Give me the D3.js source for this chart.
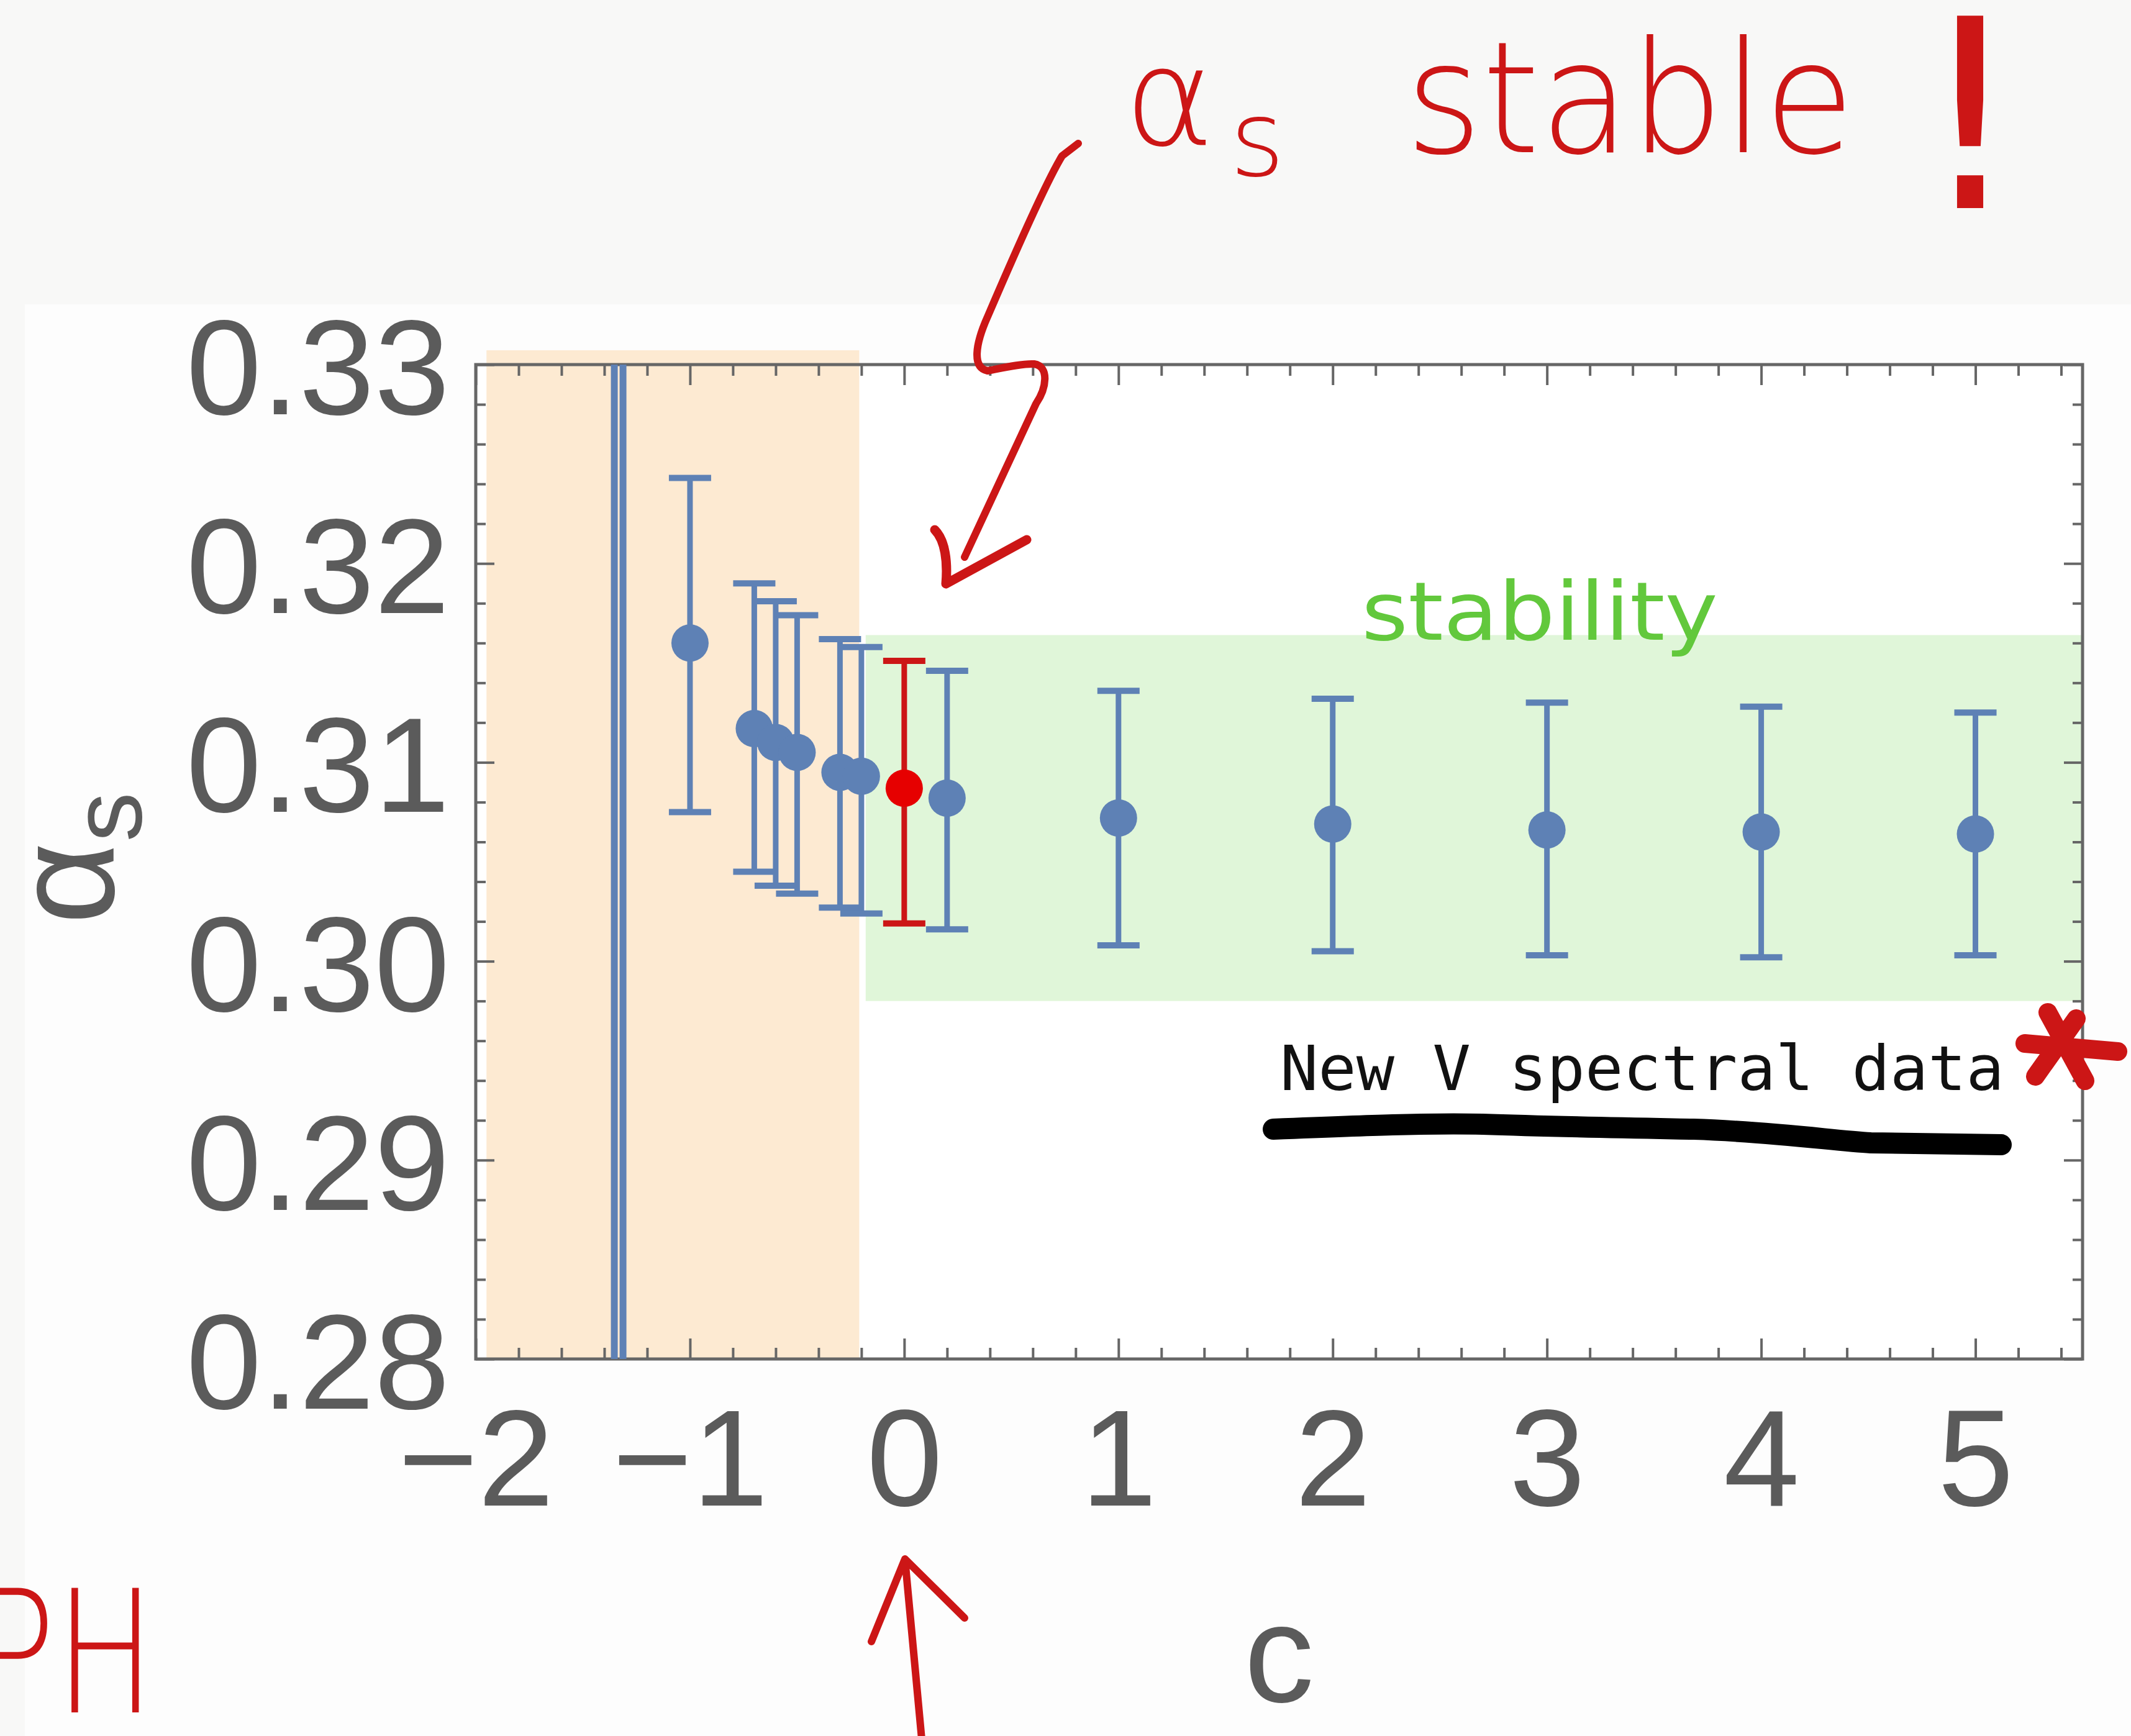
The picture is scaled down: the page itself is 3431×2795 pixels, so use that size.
<!DOCTYPE html>
<html lang="en">
<head>
  <meta charset="UTF-8">
  <title>alpha_s vs c</title>
  <style>
    body {
      margin: 0;
      background-color: #f8f8f7;
    }
    svg {
      display: block;
    }
    .tick-label text {
      font-family: "Liberation Sans", Arial, sans-serif;
      fill: #5b5b5b;
    }
    .hand {
      font-family: "DejaVu Sans", sans-serif;
      font-weight: 200;
    }
  </style>
  <script src="https://d3js.org/d3.v7.min.js"></script>
</head>
<body>
  <div id="chart"></div>

  <script>
    // Data
    const cVals  = [-1.0, -0.7, -0.6, -0.5, -0.3, -0.2, 0.0, 0.2, 1, 2, 3, 4, 5];
    const alphaS = [0.3160, 0.3117, 0.3110, 0.3105, 0.3095, 0.3093, 0.3087, 0.3082, 0.3072, 0.3069, 0.3066, 0.3065, 0.3064];
    const errHi  = [0.3243, 0.3190, 0.3181, 0.3174, 0.3162, 0.3158, 0.3151, 0.3146, 0.3136, 0.3132, 0.3130, 0.3128, 0.3125];
    const errLo  = [0.3075, 0.3045, 0.3038, 0.3034, 0.3027, 0.3024, 0.3019, 0.3016, 0.3008, 0.3005, 0.3003, 0.3002, 0.3003];
    const highlightC = 0;

    // the point whose error bar runs off the whole plot
    const wideC = [-1.333];
    const wideLo = [0.20];
    const wideHi = [0.40];

    // shaded regions [c0, c1, a0, a1]
    const unstableBand = [-1.95, -0.21, 0.28, 0.33072];
    const stableBand = [-0.18, 5.5, 0.2980, 0.3164];

    const xTicks = [-2, -1, 0, 1, 2, 3, 4, 5];
    const yTicks = [0.28, 0.29, 0.30, 0.31, 0.32, 0.33];

    const width = 3431;
    const height = 2795;
    const plot = { left: 766, right: 3353, top: 587, bottom: 2188 };

    const blue = '#5e81b5';
    const red = '#cc1616';
    const frameColor = '#666666';

    const svg = d3.select('#chart')
      .append('svg')
      .attr('width', width)
      .attr('height', height);

    const x = d3.scaleLinear().domain([-2, 5.5]).range([plot.left, plot.right]);
    const y = d3.scaleLinear().domain([0.28, 0.33]).range([plot.bottom, plot.top]);

    // light background of the slide
    svg.append('rect')
      .attr('x', 40).attr('y', 490)
      .attr('width', width - 40).attr('height', height - 490)
      .attr('fill', '#fdfdfd');

    svg.append('rect')
      .attr('x', plot.left).attr('y', plot.top)
      .attr('width', plot.right - plot.left).attr('height', plot.bottom - plot.top)
      .attr('fill', '#ffffff');

    // bands
    svg.append('rect')
      .attr('x', x(unstableBand[0]))
      .attr('y', y(unstableBand[3]))
      .attr('width', x(unstableBand[1]) - x(unstableBand[0]))
      .attr('height', y(unstableBand[2]) - y(unstableBand[3]))
      .attr('fill', '#fdead2');

    svg.append('rect')
      .attr('x', x(stableBand[0]))
      .attr('y', y(stableBand[3]))
      .attr('width', x(stableBand[1]) - x(stableBand[0]))
      .attr('height', y(stableBand[2]) - y(stableBand[3]))
      .attr('fill', '#e0f6d9');

    // ticks, all pointing inward
    const range = (a, b, s) => d3.range(Math.round(a / s), Math.round(b / s) + 1).map(i => +(i * s).toFixed(4));
    const xMinor = range(-2, 5.4, 0.2).filter(v => !xTicks.includes(v));
    const yMinor = range(0.28, 0.33, 0.002).filter(v => !yTicks.some(t => Math.abs(t - v) < 1e-6));
    const fmtX = d => d < 0 ? '\u2212' + Math.abs(d) : String(d);

    const bottomAxis = svg.append('g')
      .attr('class', 'tick-label')
      .attr('transform', `translate(0,${plot.bottom})`)
      .call(d3.axisBottom(x).tickValues(xTicks).tickSize(-33).tickPadding(80).tickFormat(fmtX));
    bottomAxis.selectAll('text').style('font-size', '220px');

    svg.append('g')
      .attr('transform', `translate(0,${plot.bottom})`)
      .call(d3.axisBottom(x).tickValues(xMinor).tickSize(-18).tickFormat(''));

    svg.append('g')
      .attr('transform', `translate(0,${plot.top})`)
      .call(d3.axisTop(x).tickValues(xTicks).tickSize(-33).tickFormat(''));
    svg.append('g')
      .attr('transform', `translate(0,${plot.top})`)
      .call(d3.axisTop(x).tickValues(xMinor).tickSize(-18).tickFormat(''));

    const leftAxis = svg.append('g')
      .attr('class', 'tick-label')
      .attr('transform', `translate(${plot.left},0)`)
      .call(d3.axisLeft(y).tickValues(yTicks).tickSize(-30).tickPadding(42).tickFormat(d3.format('.2f')));
    leftAxis.selectAll('text').style('font-size', '218px').attr('dy', '0.365em');

    svg.append('g')
      .attr('transform', `translate(${plot.left},0)`)
      .call(d3.axisLeft(y).tickValues(yMinor).tickSize(-16).tickFormat(''));
    svg.append('g')
      .attr('transform', `translate(${plot.right},0)`)
      .call(d3.axisRight(y).tickValues(yTicks).tickSize(-30).tickFormat(''));
    svg.append('g')
      .attr('transform', `translate(${plot.right},0)`)
      .call(d3.axisRight(y).tickValues(yMinor).tickSize(-16).tickFormat(''));

    svg.selectAll('.domain').remove();
    svg.selectAll('.tick line').attr('stroke', frameColor).attr('stroke-width', 4);

    svg.append('rect')
      .attr('x', plot.left).attr('y', plot.top)
      .attr('width', plot.right - plot.left).attr('height', plot.bottom - plot.top)
      .attr('fill', 'none')
      .attr('stroke', frameColor)
      .attr('stroke-width', 5);

    // axis labels
    const yLabel = svg.append('text')
      .attr('transform', 'translate(183,1382) rotate(-90)')
      .attr('text-anchor', 'middle')
      .style('font-family', '"Liberation Sans", Arial, sans-serif')
      .style('fill', '#5b5b5b');
    yLabel.append('tspan').style('font-size', '230px').text('\u03b1');
    yLabel.append('tspan').style('font-size', '160px').attr('dy', 44).text('s');

    svg.append('text')
      .attr('x', (plot.left + plot.right) / 2)
      .attr('y', 2740)
      .attr('text-anchor', 'middle')
      .style('font-family', '"Liberation Sans", Arial, sans-serif')
      .style('font-size', '225px')
      .style('fill', '#5b5b5b')
      .text('c');

    // data
    svg.append('clipPath').attr('id', 'plot-clip')
      .append('rect')
      .attr('x', plot.left).attr('y', plot.top)
      .attr('width', plot.right - plot.left).attr('height', plot.bottom - plot.top);

    const wide = svg.append('g').attr('clip-path', 'url(#plot-clip)');
    wideC.forEach((c, i) => {
      [-7, 7].forEach(off => {
        wide.append('line')
          .attr('x1', x(c) + off).attr('x2', x(c) + off)
          .attr('y1', y(wideLo[i])).attr('y2', y(wideHi[i]))
          .attr('stroke', blue)
          .attr('stroke-width', 11);
      });
    });

    const points = cVals.map((c, i) => ({ c, a: alphaS[i], lo: errLo[i], hi: errHi[i], hl: c === highlightC }));
    const capHalf = 34;

    const bars = svg.append('g')
      .selectAll('g')
      .data(points)
      .enter()
      .append('g');

    bars.append('line')
      .attr('x1', d => x(d.c)).attr('x2', d => x(d.c))
      .attr('y1', d => y(d.lo)).attr('y2', d => y(d.hi))
      .attr('stroke', d => d.hl ? red : blue)
      .attr('stroke-width', 9);

    bars.selectAll('.cap')
      .data(d => [{ c: d.c, v: d.lo, hl: d.hl }, { c: d.c, v: d.hi, hl: d.hl }])
      .enter()
      .append('line')
      .attr('class', 'cap')
      .attr('x1', d => x(d.c) - capHalf).attr('x2', d => x(d.c) + capHalf)
      .attr('y1', d => y(d.v)).attr('y2', d => y(d.v))
      .attr('stroke', d => d.hl ? red : blue)
      .attr('stroke-width', 10);

    bars.append('circle')
      .attr('cx', d => x(d.c))
      .attr('cy', d => y(d.a))
      .attr('r', 30)
      .attr('fill', d => d.hl ? '#e60000' : blue);

    // handwritten annotations
    const note = svg.append('g').attr('fill', red);
    note.append('text').attr('class', 'hand')
      .attr('x', 1810).attr('y', 233).style('font-size', '220px').text('\u03b1');
    note.append('text').attr('class', 'hand')
      .attr('x', 1980).attr('y', 283).style('font-size', '170px').text('s');
    note.append('text').attr('class', 'hand')
      .attr('x', 2263).attr('y', 245).style('font-size', '250px')
      .attr('textLength', 723).attr('lengthAdjust', 'spacingAndGlyphs').text('stable');
    note.append('text').attr('class', 'hand')
      .attr('x', 3172).attr('y', 335).attr('text-anchor', 'middle')
      .style('font-size', '425px').style('font-weight', 'normal').text('!');
    note.append('text').attr('class', 'hand')
      .attr('x', -40).attr('y', 2757).style('font-size', '275px')
      .attr('textLength', 290).attr('lengthAdjust', 'spacingAndGlyphs').text('PH');

    const pen = svg.append('g')
      .attr('fill', 'none')
      .attr('stroke', red)
      .attr('stroke-linecap', 'round')
      .attr('stroke-linejoin', 'round');

    pen.append('path')
      .attr('stroke-width', 12)
      .attr('d', 'M1736,231 L1710,251 C1680,300 1620,440 1590,510 C1570,555 1565,592 1590,597 ' +
                 'C1615,592 1645,585 1665,586 C1690,590 1685,625 1668,650 L1553,897');
    pen.append('path')
      .attr('stroke-width', 15)
      .attr('d', 'M1505,853 C1522,870 1526,905 1523,940 L1653,869');
    pen.append('path')
      .attr('stroke-width', 12)
      .attr('d', 'M1484,2800 L1457,2510 M1403,2643 L1457,2510 L1553,2605');
    pen.append('path')
      .attr('stroke-width', 30)
      .attr('d', 'M3297,1630 L3357,1740 M3343,1640 L3277,1733 M3260,1680 L3410,1693');

    svg.append('text').attr('class', 'hand')
      .attr('x', 2192).attr('y', 1030)
      .style('font-size', '130px')
      .style('font-weight', 'normal')
      .attr('fill', '#62c83c')
      .attr('textLength', 574).attr('lengthAdjust', 'spacingAndGlyphs')
      .text('stability');

    svg.append('text')
      .attr('x', 2061).attr('y', 1755)
      .style('font-family', '"DejaVu Sans Mono", monospace')
      .style('font-size', '100px')
      .attr('fill', '#111111')
      .attr('textLength', 1166).attr('lengthAdjust', 'spacingAndGlyphs')
      .text('New V spectral data');

    svg.append('path')
      .attr('d', 'M2050,1818 C2200,1812 2300,1808 2387,1810 C2500,1814 2620,1816 2727,1818 C2850,1822 2950,1836 3012,1840 L3222,1843')
      .attr('fill', 'none')
      .attr('stroke', '#000')
      .attr('stroke-width', 34)
      .attr('stroke-linecap', 'round');
  </script>
</body>
</html>
